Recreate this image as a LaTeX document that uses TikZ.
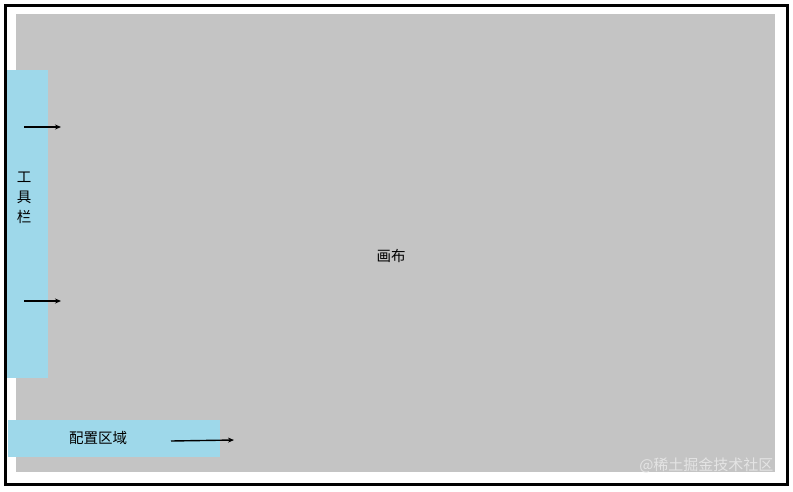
\documentclass[tikz,border=0pt]{standalone}
\usepackage{fontspec}
\newfontfamily\cjk{Noto Sans CJK SC}
\usetikzlibrary{arrows.meta}
\definecolor{canvasgray}{RGB}{196,196,196}
\definecolor{panelblue}{RGB}{158,216,234}
\definecolor{markgray}{RGB}{228,228,228}
\tikzset{
    panel/.style={fill=panelblue, draw=none, inner sep=0pt, anchor=north west},
    hint/.style={line width=1.4pt, -{Stealth[length=6pt,width=5pt]}}
}
\begin{document}
\begin{tikzpicture}[x=1pt,y=-1pt,font=\cjk\fontsize{14.5}{20}\selectfont]
        \useasboundingbox (0,0) rectangle (793,491);
        \draw[line width=3pt] (5.5,5.5) rectangle (787.5,484);
        \node[fill=canvasgray, inner sep=0pt, anchor=north west, minimum width=759pt, minimum height=458pt] (canvas) at (16,14) {};
        \node (canvaslabel) at (391,256) {画布};
        \node[panel, minimum width=41pt, minimum height=308pt] (toolbar) at (7,70) {};
        \node[align=center, inner sep=0pt] (toolbarlabel) at (24,198) {工\\具\\栏};
        \node[panel, minimum width=212pt, minimum height=37pt] (config) at (8,420) {};
        \node (configlabel) at (98,438) {配置区域};
        \coordinate (a1) at (24,127); \coordinate (b1) at (61,127);
        \coordinate (a2) at (24,301); \coordinate (b2) at (61,301);
        \coordinate (a3) at (171,441); \coordinate (b3) at (234,440);
        \draw[hint] (a1) -- (b1);
        \draw[hint] (a2) -- (b2);
        \draw[hint] (a3) -- (b3);
        \node[anchor=east, text=markgray, font=\cjk\fontsize{15}{15}\selectfont] (mark) at (777,465) {@稀土掘金技术社区};
    \end{tikzpicture}
\end{document}
